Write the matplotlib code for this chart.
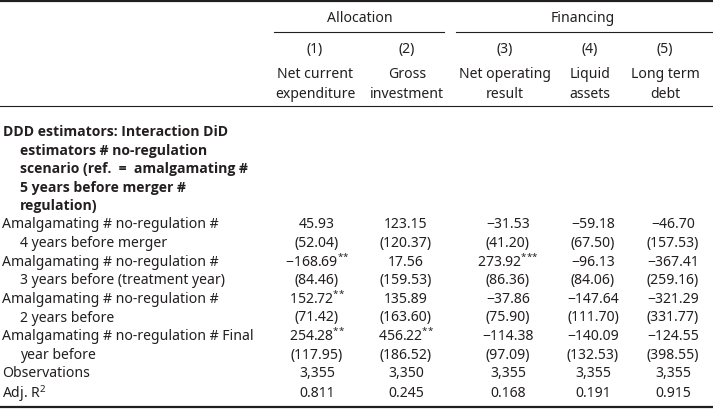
import matplotlib
matplotlib.use("Agg")
import matplotlib.pyplot as plt

# table content
col_nums = ["(1)", "(2)", "(3)", "(4)", "(5)"]
col_names = [["Net current", "expenditure"], ["Gross", "investment"],
             ["Net operating", "result"], ["Liquid", "assets"], ["Long term", "debt"]]
groups = ["Allocation", "Financing"]

section_title = ["DDD estimators: Interaction DiD",
                 "estimators # no-regulation",
                 "scenario (ref.  =  amalgamating #",
                 "5 years before merger #",
                 "regulation)"]

row_labels = [["Amalgamating # no-regulation #", "4 years before merger"],
              ["Amalgamating # no-regulation #", "3 years before (treatment year)"],
              ["Amalgamating # no-regulation #", "2 years before"],
              ["Amalgamating # no-regulation # Final", "year before"]]

coefs = [["45.93", "123.15", "−31.53", "−59.18", "−46.70"],
         ["−168.69**", "17.56", "273.92***", "−96.13", "−367.41"],
         ["152.72**", "135.89", "−37.86", "−147.64", "−321.29"],
         ["254.28**", "456.22**", "−114.38", "−140.09", "−124.55"]]
ses = [["(52.04)", "(120.37)", "(41.20)", "(67.50)", "(157.53)"],
       ["(84.46)", "(159.53)", "(86.36)", "(84.06)", "(259.16)"],
       ["(71.42)", "(163.60)", "(75.90)", "(111.70)", "(331.77)"],
       ["(117.95)", "(186.52)", "(97.09)", "(132.53)", "(398.55)"]]
observations = ["3,355", "3,350", "3,355", "3,355", "3,355"]
adj_r2 = ["0.811", "0.245", "0.168", "0.191", "0.915"]

W, H = 713, 410
INK = "#231f20"

plt.rcParams["font.family"] = ["Noto Sans", "DejaVu Sans"]
plt.rcParams["mathtext.fontset"] = "custom"
plt.rcParams["mathtext.rm"] = "Noto Sans"
plt.rcParams["mathtext.it"] = "Noto Sans"

fig = plt.figure(figsize=(W / 100, H / 100), dpi=100)
FS = 10.1


def px(x, y):
    return x / W, 1 - y / H


def txt(x, y, s, ha="left", bold=False, size=FS):
    if bold:
        fig.text(*px(x, y), s, ha=ha, va="center", fontsize=size,
                 fontweight="bold", family=["Open Sans", "DejaVu Sans"], color=INK)
    else:
        fig.text(*px(x, y), s, ha=ha, va="center", fontsize=size, color=INK)


def hline(y, x0, x1, lw):
    fig.add_artist(plt.Line2D([x0 / W, x1 / W], [1 - y / H, 1 - y / H],
                              color=INK, lw=lw))


def stars(s):
    # stars as superscript, grouped so mathtext does not space them
    n = len(s) - len(s.rstrip("*"))
    if n == 0:
        return s
    return s[:-n] + "$^{" + "{*}" * n + "}$"


head_x = [315, 407, 505, 590, 665]
num_x = [317, 406, 508, 593, 673]

# rules
hline(1.5, 0, W, 1.6)
hline(33, 274, 444, 0.8)
hline(33, 456, W, 0.8)
hline(107, 0, W, 0.8)
hline(408, 0, W, 1.6)

# header
txt(360, 18, groups[0], ha="center")
txt(583, 18, groups[1], ha="center")
for x, n, (a, b) in zip(head_x, col_nums, col_names):
    txt(x, 50, n, ha="center")
    txt(x, 75, a, ha="center")
    txt(x, 95, b, ha="center")

# body
step = 18.6
y = 132
for i, line in enumerate(section_title):
    txt(3 if i == 0 else 20, y, line, bold=True)
    y += step

for (l1, l2), cr, sr in zip(row_labels, coefs, ses):
    txt(2, y, l1)
    for x, v in zip(num_x, cr):
        txt(x, y, stars(v), ha="center")
    y += step
    txt(20, y, l2)
    for x, v in zip(num_x, sr):
        txt(x, y, v, ha="center")
    y += step

txt(2, y, "Observations")
for x, v in zip(num_x, observations):
    txt(x, y, v, ha="center")
y += step + 1
txt(2, y, "Adj. R$^2$")
for x, v in zip(num_x, adj_r2):
    txt(x, y, v, ha="center")

fig.savefig("out.png", dpi=100)
